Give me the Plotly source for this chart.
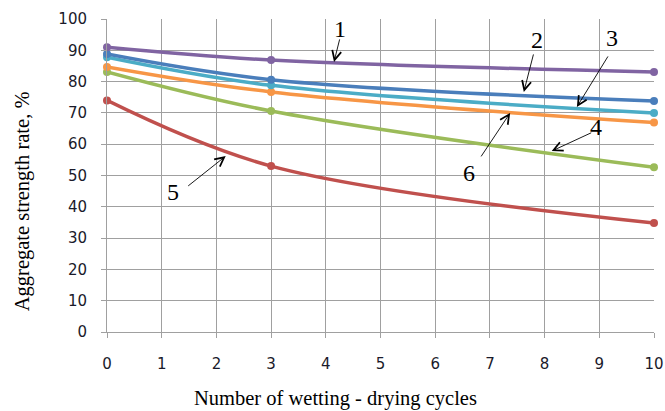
import plotly.graph_objects as go

cycles = [0, 3, 10]
s1 = [91.0, 86.9, 83.1]
s2 = [88.8, 80.6, 73.8]
s3 = [87.8, 78.8, 70.0]
s6 = [84.7, 76.7, 66.9]
s4 = [83.1, 70.6, 52.6]
s5 = [74.0, 53.0, 34.8]

series = [
    ("1", s1, "#8064A2"),
    ("2", s2, "#4A7EBB"),
    ("3", s3, "#4BACC6"),
    ("6", s6, "#F79646"),
    ("4", s4, "#9BBB59"),
    ("5", s5, "#C0504D"),
]

x_title = "Number of wetting - drying cycles"
y_title = "Aggregate strength rate, %"

fig = go.Figure()
for name, ys, col in series[::-1]:
    fig.add_trace(go.Scatter(
        x=cycles, y=ys, name=name, mode="lines+markers",
        line=dict(color=col, width=3.5, shape="spline", smoothing=1.0),
        marker=dict(color=col, size=8), showlegend=False, cliponaxis=False,
        hoverinfo="skip",
    ))

serif = "Liberation Serif"
labels = [
    # text, text_x, text_y, head_x, head_y, ax, ay
    ("1", 4.26, 96.8, 4.15, 86.3, 6, -24),
    ("2", 7.86, 93.3, 7.62, 76.7, 10, -39),
    ("3", 9.23, 93.9, 8.59, 71.9, 32, -52),
    ("4", 8.94, 65.5, 8.13, 57.8, 41, -19),
    ("6", 6.62, 50.8, 7.37, 70.0, -30, 45),
    ("5", 1.20, 44.7, 2.17, 56.2, -39, 31),
]
for t, tx, ty, hx, hy, ax, ay in labels:
    fig.add_annotation(x=tx, y=ty, text=t, showarrow=False,
                       font=dict(family=serif, size=24, color="#000"))
    fig.add_annotation(x=hx, y=hy, text="", showarrow=True, ax=ax, ay=ay,
                       arrowhead=5, arrowsize=2, arrowwidth=0.9,
                       arrowcolor="#000")

# axis titles (offset from plot centre as in the original)
fig.add_annotation(xref="paper", yref="paper", x=0.417, y=-0.211,
                   xanchor="center", yanchor="middle", showarrow=False,
                   text=x_title, font=dict(family=serif, size=20.5, color="#000"))
fig.add_annotation(xref="paper", yref="paper", x=-0.155, y=0.4185,
                   xanchor="center", yanchor="middle", showarrow=False,
                   textangle=-90,
                   text=y_title, font=dict(family=serif, size=20.5, color="#000"))

tickfont = dict(family="DejaVu Sans", size=15, color="#1a1a2a")
fig.update_layout(
    width=665, height=411,
    margin=dict(l=107, r=11, t=19, b=79),
    paper_bgcolor="white", plot_bgcolor="white",
    xaxis=dict(range=[0, 10], dtick=1, showgrid=True, gridcolor="#A0A0A0",
               gridwidth=1, zeroline=False, showline=True, linecolor="#A0A0A0",
               ticks="outside", ticklen=5, tickcolor="#A0A0A0",
               tickfont=tickfont, ticklabelstandoff=13, automargin=False),
    yaxis=dict(range=[0, 100], dtick=10, showgrid=True, gridcolor="#A0A0A0",
               gridwidth=1, zeroline=False, showline=True, linecolor="#A0A0A0",
               ticks="outside", ticklen=5, tickcolor="#A0A0A0",
               tickfont=tickfont, ticklabelstandoff=11, automargin=False),
)
fig.write_html("out.html", config={"displayModeBar": False},
               post_script="document.body.style.margin='0';document.body.style.overflow='hidden';")
